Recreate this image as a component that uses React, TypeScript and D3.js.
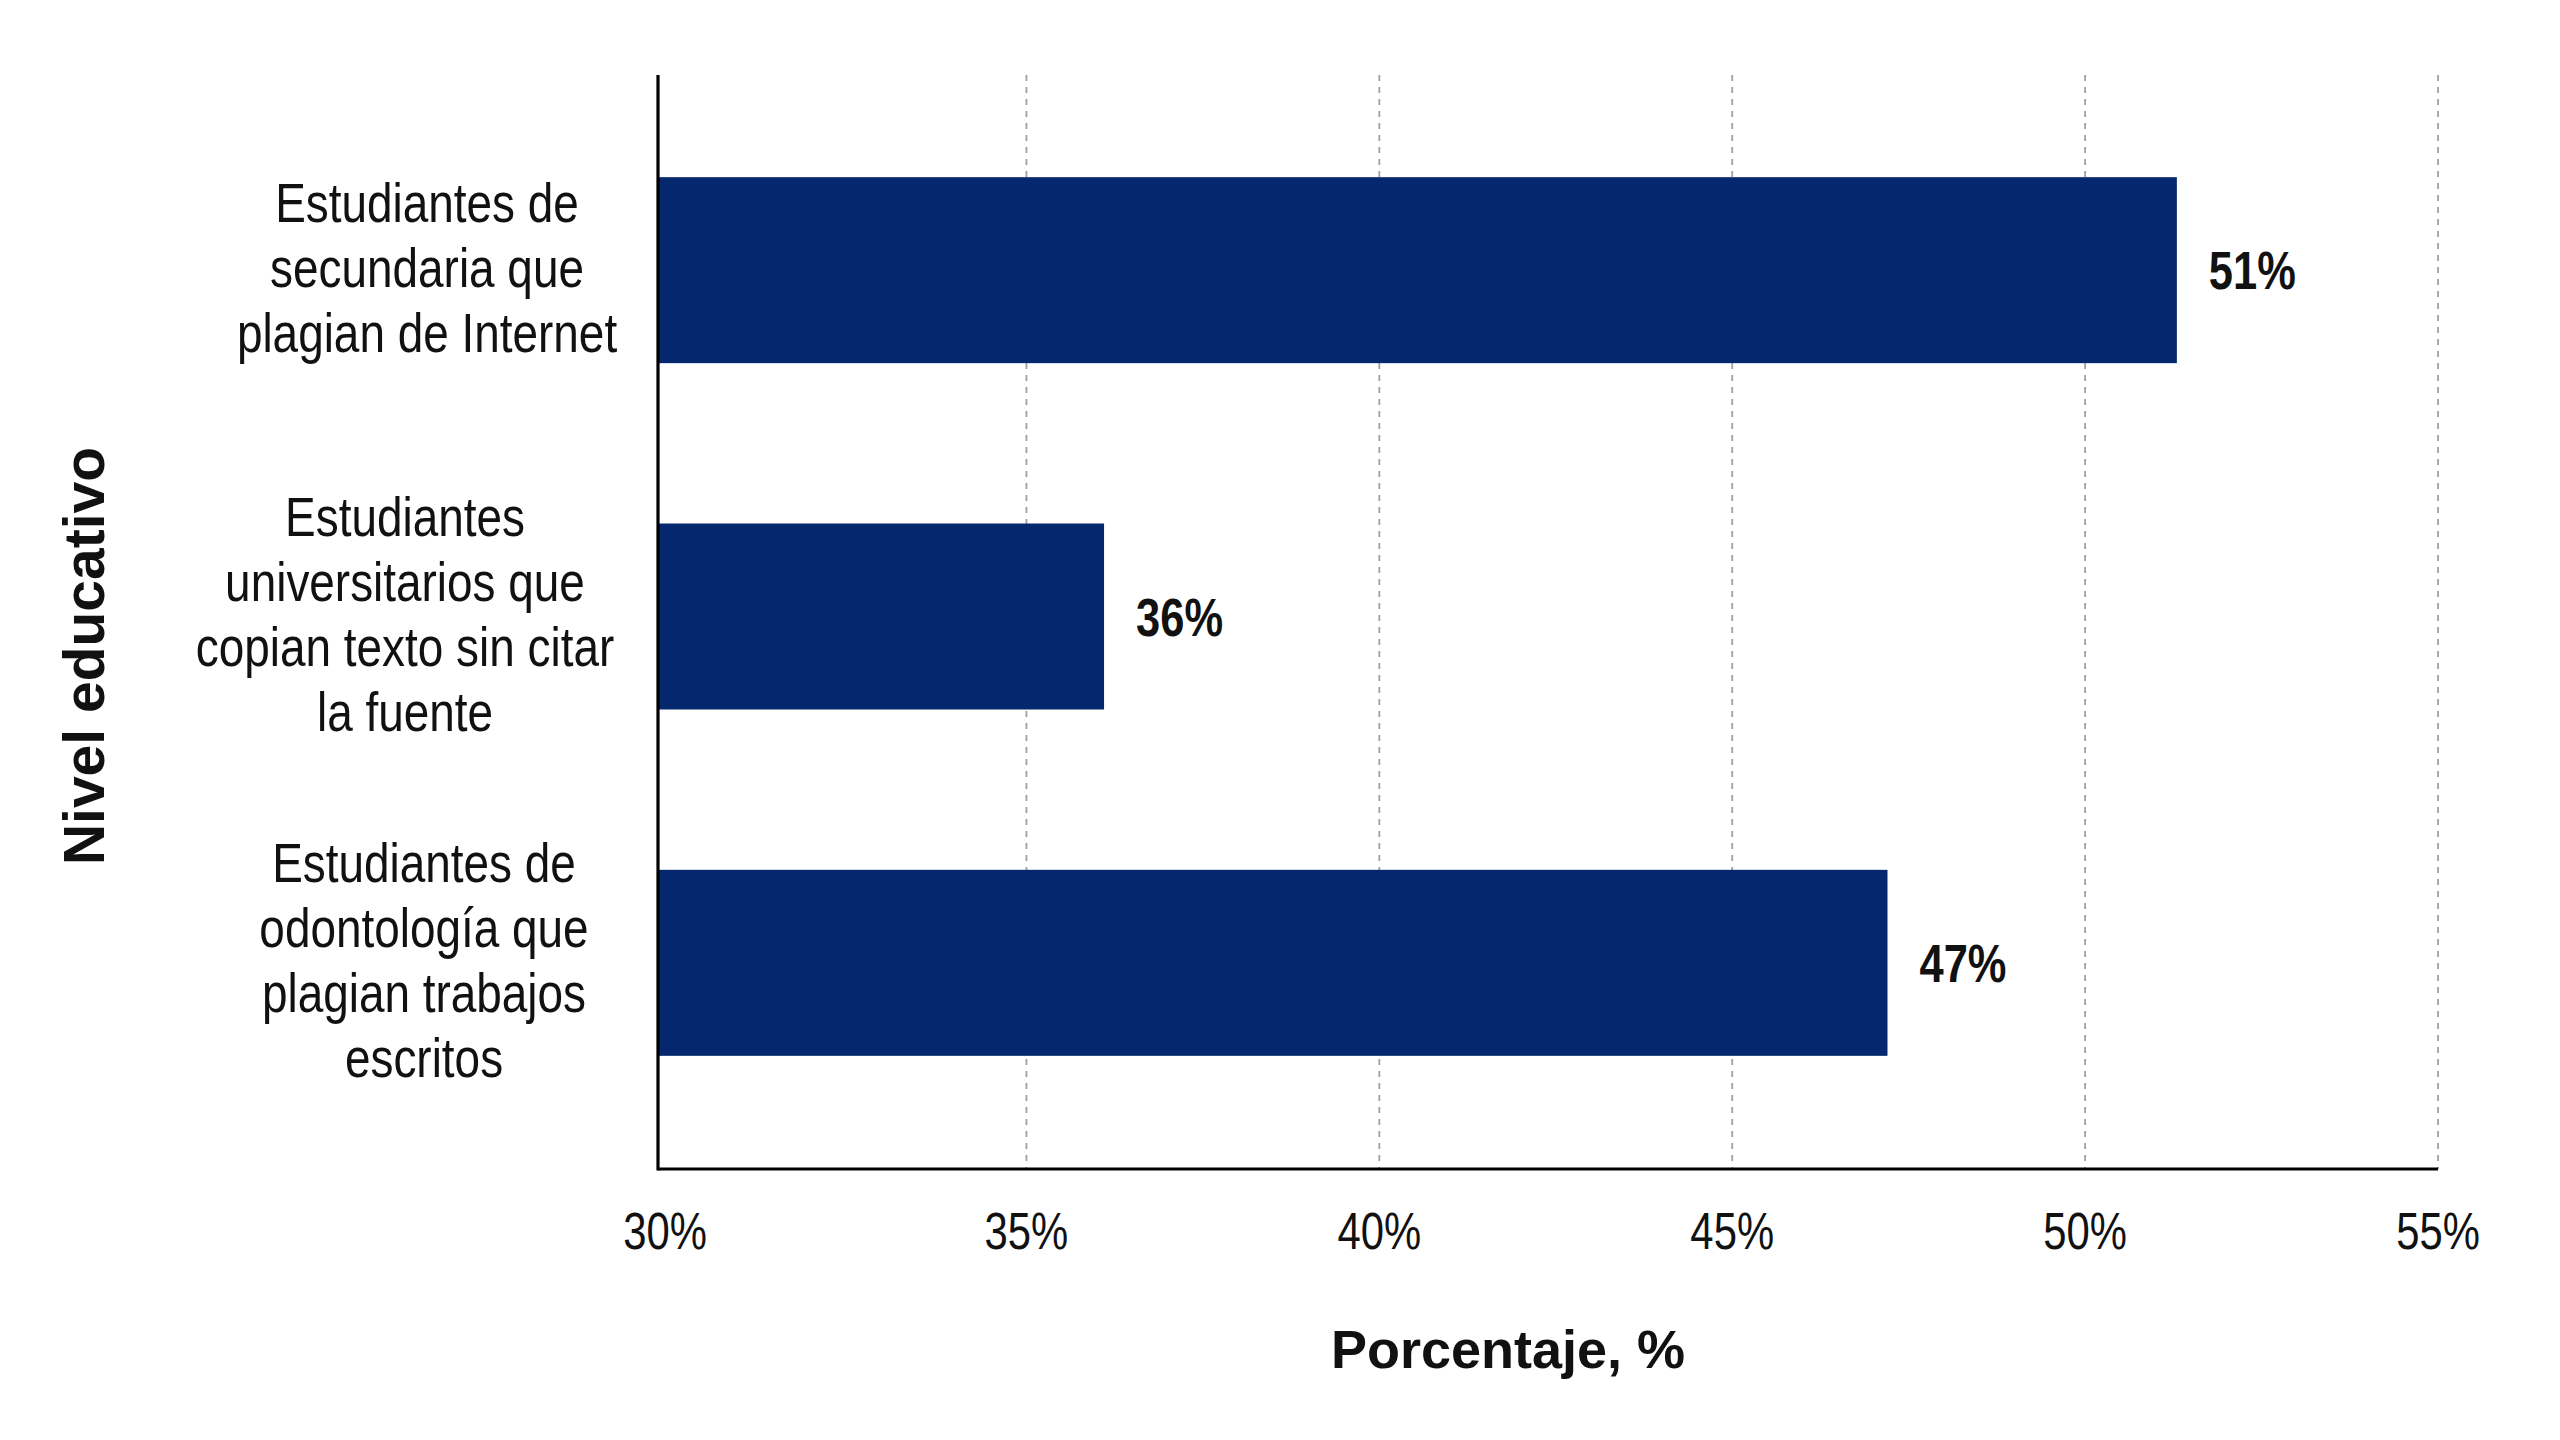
import React, { useEffect, useRef } from "react";
import * as d3 from "d3";

// data
const categories = [
  "Estudiantes de secundaria que plagian de Internet",
  "Estudiantes universitarios que copian texto sin citar la fuente",
  "Estudiantes de odontología que plagian trabajos escritos",
];
const categoryLines = [
  ["Estudiantes de", "secundaria que", "plagian de Internet"],
  ["Estudiantes", "universitarios que", "copian texto sin citar", "la fuente"],
  ["Estudiantes de", "odontología que", "plagian trabajos", "escritos"],
];
const values = [51.3, 36.1, 47.2];
const tickValues = [30, 35, 40, 45, 50, 55];
const xTitle = "Porcentaje, %";
const yTitle = "Nivel educativo";

const SANS = "'Liberation Sans', Arial, sans-serif";
const NARROW_X = 0.82; // Arial Narrow look, squeezed Liberation Sans

const App = () => {
  const chartRef = useRef<HTMLDivElement>(null);

  useEffect(() => {
    d3.select(chartRef.current).select("svg").remove();

    const W = 2560;
    const H = 1440;
    const left = 658;
    const right = 2438;
    const top = 75;
    const bottom = 1169;

    const svg = d3
      .select(chartRef.current)
      .append("svg")
      .attr("width", W)
      .attr("height", H)
      .style("display", "block")
      .style("background", "#fff");

    // narrow text helper
    const narrow = (x: number, y: number, size: number, bold: boolean, anchor: string) =>
      svg
        .append("g")
        .attr("transform", `translate(${x},${y}) scale(${NARROW_X},1)`)
        .append("text")
        .attr("text-anchor", anchor)
        .style("font-family", SANS)
        .style("font-weight", bold ? "bold" : "normal")
        .style("font-size", `${size}px`)
        .attr("fill", "#111");

    // axis line sits a little before the 30% mark, like the original
    const xScale = d3.scaleLinear().domain([29.78, 55]).range([left, right]);

    const yScale = d3
      .scaleBand<string>()
      .domain(categories)
      .range([97, 1136])
      .paddingInner(0.463)
      .paddingOuter(0.2315);

    // dashed grid
    svg
      .append("g")
      .selectAll("line")
      .data(tickValues.filter((t) => t > 30))
      .enter()
      .append("line")
      .attr("x1", (d) => xScale(d))
      .attr("x2", (d) => xScale(d))
      .attr("y1", top)
      .attr("y2", bottom)
      .attr("stroke", "#a0a0a0")
      .attr("stroke-width", 1.8)
      .attr("stroke-dasharray", "6,6");

    // bars
    svg
      .append("g")
      .selectAll("rect")
      .data(values)
      .enter()
      .append("rect")
      .attr("x", left)
      .attr("y", (d, i) => yScale(categories[i]) as number)
      .attr("width", (d) => xScale(d) - left)
      .attr("height", yScale.bandwidth())
      .attr("fill", "#04276e");

    // value labels
    values.forEach((v, i) => {
      narrow(
        xScale(v) + 32,
        (yScale(categories[i]) as number) + yScale.bandwidth() / 2,
        53,
        true,
        "start"
      )
        .attr("dy", "0.36em")
        .text(`${Math.round(v)}%`);
    });

    // axes
    svg
      .append("line")
      .attr("x1", left)
      .attr("x2", left)
      .attr("y1", top)
      .attr("y2", bottom + 1.5)
      .attr("stroke", "#000")
      .attr("stroke-width", 3.2);
    svg
      .append("line")
      .attr("x1", left)
      .attr("x2", right)
      .attr("y1", bottom)
      .attr("y2", bottom)
      .attr("stroke", "#000")
      .attr("stroke-width", 3.2);

    // tick labels
    tickValues.forEach((t) => {
      narrow(t === 30 ? left + 7 : xScale(t), 1249, 51, false, "middle").text(`${t}%`);
    });

    // category labels
    const labelX = [427, 405, 424];
    const lineH = 65;
    categories.forEach((c, i) => {
      const lines = categoryLines[i];
      const cy = (yScale(c) as number) + yScale.bandwidth() / 2 - 3;
      const t = narrow(labelX[i], cy, 56, false, "middle");
      lines.forEach((ln, j) => {
        t.append("tspan")
          .attr("x", 0)
          .attr("y", (j - (lines.length - 1) / 2) * lineH)
          .attr("dy", "0.36em")
          .text(ln);
      });
    });

    // axis titles
    svg
      .append("text")
      .attr("x", 1508)
      .attr("y", 1368)
      .attr("text-anchor", "middle")
      .style("font-family", SANS)
      .style("font-weight", "bold")
      .style("font-size", "54px")
      .attr("fill", "#111")
      .text(xTitle);

    svg
      .append("text")
      .attr("transform", "translate(83,656) rotate(-90)")
      .attr("text-anchor", "middle")
      .attr("dy", "0.36em")
      .style("font-family", SANS)
      .style("font-weight", "bold")
      .style("font-size", "57px")
      .attr("fill", "#111")
      .text(yTitle);
  }, []);

  return <div ref={chartRef} style={{ position: "absolute", left: 0, top: 0 }}></div>;
};

export default App;
